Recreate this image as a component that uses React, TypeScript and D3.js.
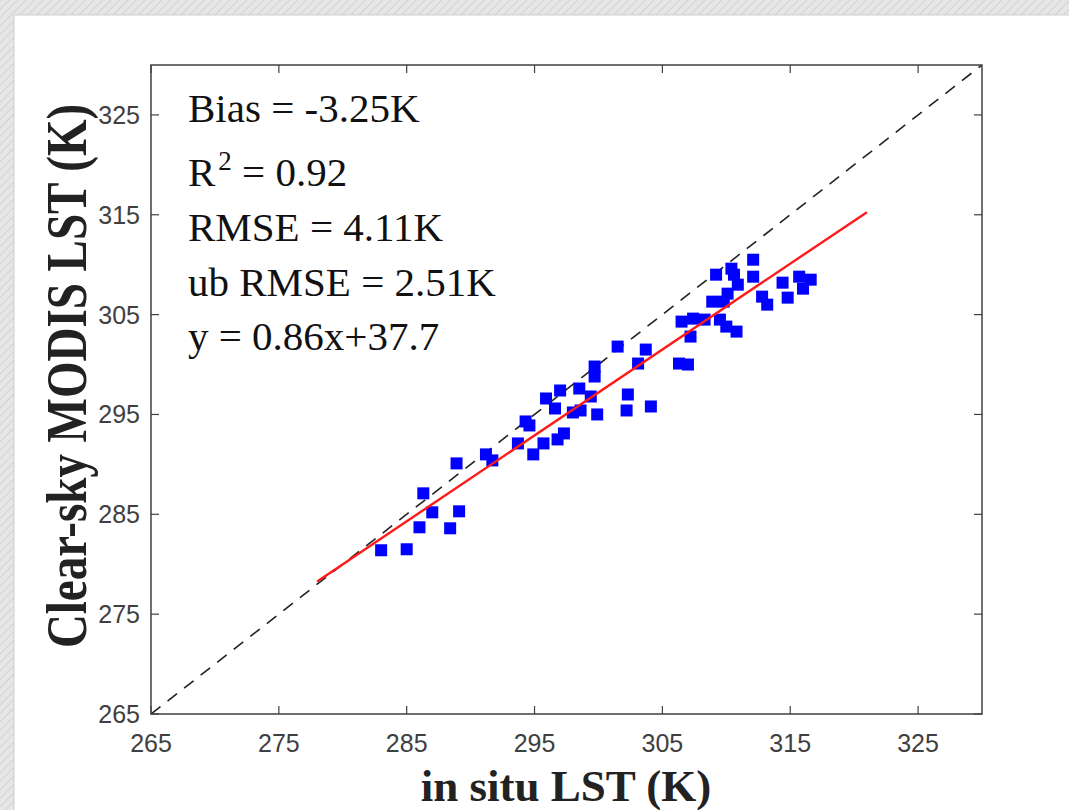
import React from 'react';
import * as d3 from 'd3';

// in situ LST (K) vs clear-sky MODIS LST (K)
const insituLST = [
  283.0, 285.0, 286.0, 287.0, 288.4, 289.1, 286.3, 288.9, 291.2, 291.7, 293.7,
  294.9, 295.7, 296.8, 297.3, 294.3, 294.6, 295.9, 296.6, 297.0, 298.0, 298.6,
  298.5, 299.4, 299.7, 299.7, 299.9, 301.5, 302.3, 302.2, 303.1, 303.7, 304.1,
  306.3, 307.0, 306.5, 307.4, 308.3, 307.2, 309.5, 310.0, 310.8, 308.9, 309.8,
  310.1, 309.2, 310.4, 310.6, 310.9, 312.1, 312.1, 312.8, 313.2, 314.4, 314.8,
  315.7, 316.0, 316.6,
];
const modisLST = [
  281.4, 281.5, 283.7, 285.2, 283.6, 285.3, 287.1, 290.1, 291.0, 290.4, 292.1,
  291.0, 292.1, 292.5, 293.1, 294.3, 293.9, 296.6, 295.6, 297.4, 295.2, 295.4,
  297.6, 296.8, 299.8, 298.8, 295.0, 301.8, 297.0, 295.4, 300.1, 301.5, 295.8,
  300.1, 300.0, 304.3, 304.6, 304.5, 302.8, 304.5, 303.8, 303.3, 306.3, 306.3,
  307.1, 309.0, 309.6, 309.0, 308.0, 310.5, 308.8, 306.8, 306.0, 308.2, 306.7,
  308.8, 307.6, 308.5,
];

const xTicks = [265, 275, 285, 295, 305, 315, 325];
const yTicks = [265, 275, 285, 295, 305, 315, 325];
const axisDomain = [265, 330];

const fitSlope = 0.86;
const fitIntercept = 39.2;
const fitXRange = [278, 321];

const statsLines = [
  { main: 'Bias = -3.25K' },
  { main: 'R', sup: '2', rest: ' = 0.92' },
  { main: 'RMSE = 4.11K' },
  { main: 'ub RMSE = 2.51K' },
  { main: 'y = 0.86x+37.7' },
];
const statsBaselines = [122, 186, 241, 296, 350];

const xLabel = 'in situ LST (K)';
const yLabel = 'Clear-sky MODIS LST (K)';

export default function App() {
  const W = 1069;
  const H = 810;
  const L = 151, R = 982, T = 65, B = 714;
  const x = d3.scaleLinear().domain(axisDomain).range([L, R]);
  const y = d3.scaleLinear().domain(axisDomain).range([B, T]);
  const axisColor = '#404040';
  const tickLen = 8;
  const sq = 12;

  const fitLine = d3.line<number>().x((d) => x(d)).y((d) => y(fitSlope * d + fitIntercept));

  return (
    <div style={{ position: 'absolute', left: 0, top: 0 }}>
      <svg width={W} height={H} style={{ display: 'block' }}>
        <defs>
          <pattern id="hatch" width="6" height="6" patternUnits="userSpaceOnUse" patternTransform="rotate(45)">
            <rect width="6" height="6" fill="#e6e6e6" />
            <line x1="0" y1="0" x2="0" y2="6" stroke="#d2d2d2" strokeWidth="2" />
          </pattern>
          <clipPath id="plotClip">
            <rect x={L} y={T} width={R - L} height={B - T} />
          </clipPath>
        </defs>
        <rect x={0} y={0} width={W} height={H} fill="url(#hatch)" />
        <rect x={14} y={15} width={W - 14} height={H - 15} fill="#ffffff" />
        <line x1={14} y1={15} x2={W} y2={15} stroke="#cfcfcf" strokeWidth={1} />
        <line x1={14} y1={15} x2={14} y2={H} stroke="#cfcfcf" strokeWidth={1} />

        {/* 1:1 line */}
        <g clipPath="url(#plotClip)">
          <line
            x1={x(axisDomain[0])}
            y1={y(axisDomain[0])}
            x2={x(axisDomain[1])}
            y2={y(axisDomain[1])}
            stroke="#222"
            strokeWidth={1.6}
            strokeDasharray="12,9"
          />
        </g>

        {/* points */}
        <g>
          {insituLST.map((v, i) => (
            <rect
              key={i}
              x={x(v) - sq / 2}
              y={y(modisLST[i]) - sq / 2}
              width={sq}
              height={sq}
              fill="#0000ff"
            />
          ))}
        </g>

        {/* fit line */}
        <path d={fitLine(fitXRange) || ''} stroke="#ff1a1a" strokeWidth={2.4} fill="none" />

        {/* axes box */}
        <rect x={L} y={T} width={R - L} height={B - T} fill="none" stroke={axisColor} strokeWidth={1.5} />
        {xTicks.map((t) => (
          <g key={'xt' + t}>
            <line x1={x(t)} x2={x(t)} y1={B} y2={B - tickLen} stroke={axisColor} strokeWidth={1.2} />
            <line x1={x(t)} x2={x(t)} y1={T} y2={T + tickLen} stroke={axisColor} strokeWidth={1.2} />
            <text
              x={x(t)}
              y={752}
              textAnchor="middle"
              fontFamily="'Liberation Sans', Arial, sans-serif"
              fontSize={25}
              fill={axisColor}
            >
              {t}
            </text>
          </g>
        ))}
        {yTicks.map((t) => (
          <g key={'yt' + t}>
            <line x1={L} x2={L + tickLen} y1={y(t)} y2={y(t)} stroke={axisColor} strokeWidth={1.2} />
            <line x1={R} x2={R - tickLen} y1={y(t)} y2={y(t)} stroke={axisColor} strokeWidth={1.2} />
            <text
              x={140}
              y={y(t) + 9}
              textAnchor="end"
              fontFamily="'Liberation Sans', Arial, sans-serif"
              fontSize={25}
              fill={axisColor}
            >
              {t}
            </text>
          </g>
        ))}

        {/* stats text */}
        <g fontFamily="'Liberation Serif', 'Times New Roman', serif" fontSize={41} fill="#111">
          {statsLines.map((s, i) => (
            <text key={i} x={188} y={statsBaselines[i]}>
              {s.main}
              {s.sup ? (
                <tspan fontSize={27} dy={-16} dx={3}>
                  {s.sup}
                </tspan>
              ) : null}
              {s.rest ? <tspan dy={16}>{s.rest}</tspan> : null}
            </text>
          ))}
        </g>

        {/* axis labels */}
        <text
          x={566}
          y={801}
          textAnchor="middle"
          fontFamily="'Liberation Serif', 'Times New Roman', serif"
          fontWeight="bold"
          fontSize={45}
          fill="#222"
        >
          {xLabel}
        </text>
        <text
          transform={`translate(86, 376) rotate(-90) scale(1, 1.22)`}
          textAnchor="middle"
          fontFamily="'Liberation Serif', 'Times New Roman', serif"
          fontWeight="bold"
          fontSize={47}
          fill="#222"
        >
          {yLabel}
        </text>
      </svg>
    </div>
  );
}
